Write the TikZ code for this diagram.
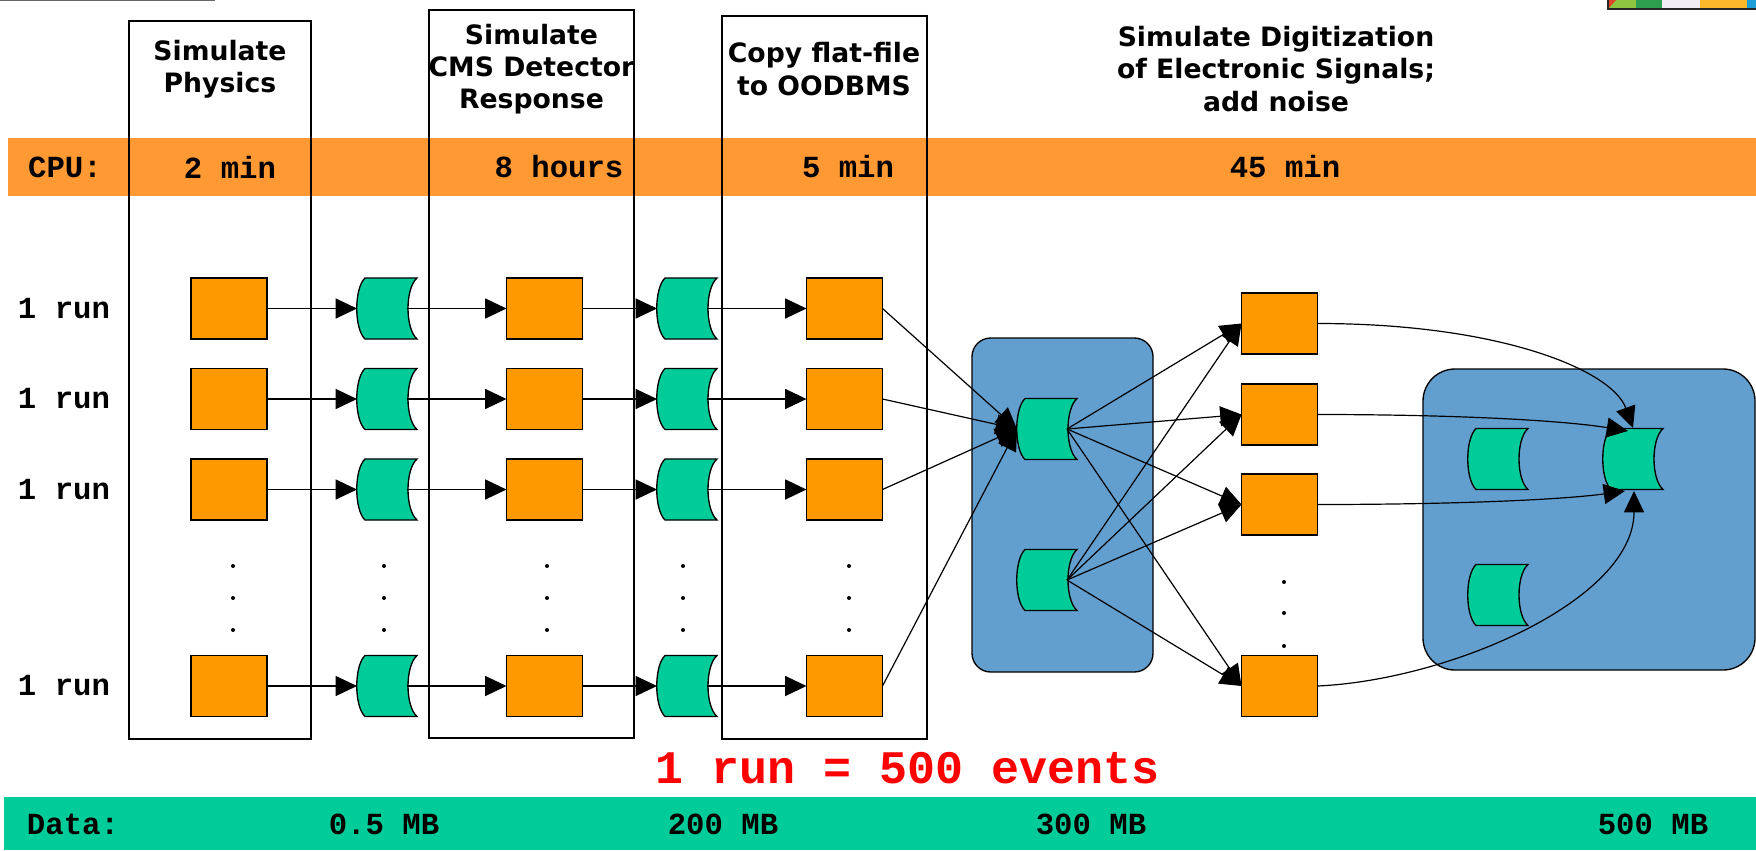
\documentclass[tikz,border=0pt]{standalone}
\usepackage{fontspec}
\setmainfont{DejaVu Sans}
\newfontfamily\courfont{Liberation Mono}
\usetikzlibrary{arrows.meta}

\definecolor{jobfill}{HTML}{FF9900}
\definecolor{storefill}{HTML}{00CC99}
\definecolor{cpuband}{HTML}{FF9933}
\definecolor{databand}{HTML}{00CC99}
\definecolor{poolfill}{HTML}{629FCF}
\definecolor{logored}{HTML}{E0452B}
\definecolor{logolime}{HTML}{8DC63F}
\definecolor{logogreen}{HTML}{2E9E4F}
\definecolor{logowhite}{HTML}{F0EEF2}
\definecolor{logoyellow}{HTML}{FDB92A}
\definecolor{logoblue}{HTML}{1E9FD8}

\tikzset{
  job/.style={draw=black, fill=jobfill, line width=1.1pt, minimum width=57pt,
    minimum height=45.75pt, inner sep=0pt, outer sep=0pt},
  storeshape/.style={draw=black, fill=storefill, line width=1pt},
  flow/.style={line width=0.9pt, -{Triangle[length=16pt,width=15pt]}},
  stage/.style={draw=black, line width=1.5pt},
  pool/.style={draw=black, fill=poolfill, line width=1pt},
  title/.style={font=\bfseries\fontsize{20}{24.2}\selectfont, align=center, inner sep=0pt},
  mono/.style={font=\courfont\bfseries\fontsize{23}{27}\selectfont, inner sep=0pt},
  dot/.style={circle, fill=black, inner sep=0pt, minimum size=3pt},
}

% stored-data symbol: convex left side, concave right side
% #1 name, #2 centre x, #3 centre y (pixel units, y downwards)
\newcommand\storedata[3]{%
  \draw[storeshape] (#2-22,#3-30.5) -- (#2+30,#3-30.5)
    .. controls (#2+18,#3-20) and (#2+18,#3+20) .. (#2+30,#3+30.5)
    -- (#2-22,#3+30.5)
    .. controls (#2-33,#3+20) and (#2-33,#3-20) .. (#2-22,#3-30.5) -- cycle;
  \coordinate (#1) at (#2,#3);
  \coordinate (#1-in) at (#2-30,#3);
  \coordinate (#1-out) at (#2+20,#3);
}

\begin{document}
\begin{tikzpicture}[x=0.75pt,y=-0.75pt]
\useasboundingbox (0,0) rectangle (1756,850);

% header rule and logo strip
\draw[black!60, line width=1pt] (0,0.7) -- (215,0.7);
\fill[logolime] (1608,0) rectangle (1636,9);
\fill[logored] (1608,9) -- (1608,0) -- (1616,0) -- cycle;
\fill[logogreen] (1636,0) rectangle (1662,9);
\fill[logowhite] (1662,0) rectangle (1700,9);
\fill[logoyellow] (1700,0) rectangle (1747,9);
\fill[logoblue] (1747,0) rectangle (1756,9);
\draw[black!85, line width=0.9pt] (1608,0) -- (1608,9) -- (1756,9);

% CPU and data bands
\fill[cpuband] (8,138) rectangle (1756,196);
\fill[databand] (4,797) rectangle (1756,850);

\node[mono] (cpu) at (65,167) {CPU:};
\node[mono] (cpu1) at (230,167) {2 min};
\node[mono] (cpu2) at (559,167) {8 hours};
\node[mono] (cpu3) at (848,167) {5 min};
\node[mono] (cpu4) at (1285,167) {45 min};

\node[mono] (data) at (73,824) {Data:};
\node[mono] (data1) at (384,824) {0.5 MB};
\node[mono] (data2) at (723,824) {200 MB};
\node[mono] (data3) at (1091,824) {300 MB};
\node[mono] (data4) at (1653,824) {500 MB};

% processing stages
\draw[stage] (129,21) rectangle (311,739);
\draw[stage] (429,10) rectangle (634,738);
\draw[stage] (722,16) rectangle (927,739);

\node[title] (t1) at (220,69) {Simulate\\Physics};
\node[title] (t2) at (531.5,69) {Simulate\\CMS Detector\\Response};
\node[title] (t3) at (824,69) {Copy flat-file\\to OODBMS};
\node[title] (t4) at (1276,69) {Simulate Digitization\\of Electronic Signals;\\add noise};

% database pools
\draw[pool, rounded corners=14pt] (972,338) rectangle (1153,672);
\draw[pool, rounded corners=24pt] (1423,369) rectangle (1755,670);

% per-run chain
\foreach \r/\y in {1/308.5,2/399,3/489.5,4/686}{
  \node[mono] (run\r) at (64,\y) {1 run};
  \node[job] (p\r) at (229,\y) {};
  \storedata{s\r}{387}{\y}
  \node[job] (d\r) at (544.5,\y) {};
  \storedata{f\r}{687}{\y}
  \node[job] (o\r) at (844.5,\y) {};
}

% digitization jobs
\foreach \r/\y in {1/323.5,2/414.5,3/504.5,4/686}
  \node[job] (g\r) at (1279.5,\y) {};

% federated databases
\storedata{A}{1047}{429}
\storedata{B}{1047}{580}
\storedata{C1}{1498}{459}
\storedata{C2}{1498}{595}
\storedata{C3}{1633}{459}
\coordinate (C3-t1) at (1633,428);
\coordinate (C3-t2) at (1628,431);
\coordinate (C3-t3) at (1625,491);
\coordinate (C3-t4) at (1634,491);

% ellipsis dots
\foreach \x in {233,384,547,683,849}
  \foreach \y in {566,598,630}
    \node[dot] (dot-\x-\y) at (\x,\y) {};
\foreach \y in {582,613,646}
  \node[dot] (dot-g-\y) at (1284,\y) {};

% data flow
\foreach \r in {1,...,4}{
  \draw[flow] (p\r.east) -- (s\r-in);
  \draw[flow] (s\r-out) -- (d\r.west);
  \draw[flow] (d\r.east) -- (f\r-in);
  \draw[flow] (f\r-out) -- (o\r.west);
  \draw[flow] (o\r.east) -- (A-in);
  \draw[flow] (A-out) -- (g\r.west);
  \draw[flow] (B-out) -- (g\r.west);
}
\draw[flow] (g1.east) .. controls (1500,323.5) and (1612,370) .. (C3-t1);
\draw[flow] (g2.east) .. controls (1450,414.5) and (1560,420) .. (C3-t2);
\draw[flow] (g3.east) .. controls (1450,504.5) and (1560,500) .. (C3-t3);
\draw[flow] (g4.east) .. controls (1450,680) and (1634,600) .. (C3-t4);

\node[font=\courfont\bfseries\fontsize{35}{40}\selectfont, text=red, inner sep=0pt]
  (note) at (908,768) {1 run = 500 events};
\end{tikzpicture}
\end{document}
